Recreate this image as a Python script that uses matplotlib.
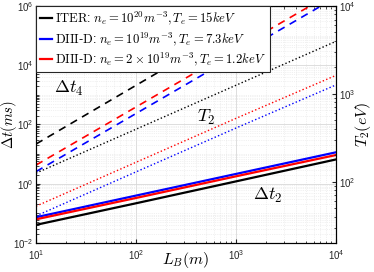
import numpy as np
import matplotlib
matplotlib.use("Agg")
import matplotlib.pyplot as plt
from matplotlib.ticker import LogLocator, NullFormatter

plt.rcParams['mathtext.fontset'] = 'cm'
plt.rcParams['font.family'] = ['Liberation Sans', 'DejaVu Sans']

# --- data (log-log straight lines) ---
L_B = [10, 100, 1000, 10000]

# Delta t_2 (ms), solid
dt2_iter = [0.041, 0.219, 1.20, 6.6]
dt2_d73 = [0.074, 0.398, 2.14, 11.5]
dt2_d12 = [0.063, 0.331, 1.78, 9.3]

# Delta t_4 (ms), dashed
dt4_iter = [21.9, 2090, 2.0e5, 1.9e7]
dt4_d73 = [2.57, 234, 2.14e4, 1.95e6]
dt4_d12 = [4.27, 389, 3.55e4, 3.2e6]

# T_2 (eV), dotted, right axis
T2_iter = [125, 395, 1250, 3950]
T2_d73 = [40.7, 129, 407, 1260]
T2_d12 = [52.5, 166, 525, 1620]

labels = [r'$\mathrm{ITER}$: $n_e = 10^{20}m^{-3}, T_e = 15keV$',
          r'$\mathrm{DIII}$-$\mathrm{D}$: $n_e = 10^{19}m^{-3}, T_e = 7.3keV$',
          r'$\mathrm{DIII}$-$\mathrm{D}$: $n_e = 2\times10^{19}m^{-3}, T_e = 1.2keV$']
colors = ['black', '#0000ff', '#ff0000']

fig = plt.figure(figsize=(3.74, 2.72), dpi=100)
ax = fig.add_axes([0.0963, 0.1066, 0.8017, 0.8714])
ax2 = ax.twinx()

dt2 = [dt2_iter, dt2_d73, dt2_d12]
dt4 = [dt4_iter, dt4_d73, dt4_d12]
T2 = [T2_iter, T2_d73, T2_d12]

handles = []
for c, lab, a, b in zip(colors, labels, dt2, dt4):
    h, = ax.plot(L_B, a, '-', color=c, lw=1.6, label=lab)
    ax.plot(L_B, b, '--', color=c, lw=1.2, dashes=(4.5, 3.5))
    handles.append(h)
for c, t in zip(colors, T2):
    ax2.plot(L_B, t, ':', color=c, lw=1.0)

for a in (ax, ax2):
    a.set_xscale('log')
    a.set_yscale('log')
ax.set_xlim(10, 1e4)
ax.set_ylim(1e-2, 1e6)
ax2.set_ylim(20, 1e4)

ax.set_yticks([1e-2, 1, 1e2, 1e4, 1e6])
ax.yaxis.set_minor_locator(LogLocator(base=10, subs=np.arange(1, 10), numticks=20))
ax.yaxis.set_minor_formatter(NullFormatter())
ax.xaxis.set_minor_locator(LogLocator(base=10, subs=np.arange(2, 10), numticks=20))
ax.xaxis.set_minor_formatter(NullFormatter())
ax2.set_yticks([1e2, 1e3, 1e4])
ax2.yaxis.set_minor_locator(LogLocator(base=10, subs=np.arange(2, 10), numticks=20))
ax2.yaxis.set_minor_formatter(NullFormatter())

ax.grid(True, which='major', color='#d8d8d8', lw=0.6)
ax.grid(True, which='minor', color='#e4e4e4', lw=0.5, ls=':')
ax.set_axisbelow(True)

ax.tick_params(which='both', direction='in', top=True, right=False, labelsize=7,
               colors='#262626', pad=2)
ax.tick_params(axis='x', which='both', pad=4)
ax.tick_params(which='major', length=3)
ax.tick_params(which='minor', length=1.8)
ax2.tick_params(which='both', direction='in', labelsize=7, colors='#262626', pad=2)
ax2.tick_params(which='major', length=3)
ax2.tick_params(which='minor', length=1.8)

ax.set_xlabel(r'$L_B(m)$', fontsize=11.5)
ax.set_ylabel(r'$\Delta t(ms)$', fontsize=10.5)
ax2.set_ylabel(r'$T_2(eV)$', fontsize=11.5)
ax.xaxis.set_label_coords(0.5, -0.03)
ax.yaxis.set_label_coords(-0.057, 0.5)
ax2.yaxis.set_label_coords(1.056, 0.5)

ax.text(21.4, 1700, r'$\Delta t_4$', fontsize=13, ha='center', va='center')
ax.text(507, 178, r'$T_2$', fontsize=13, ha='center', va='center')
ax.text(2075, 0.417, r'$\Delta t_2$', fontsize=13, ha='center', va='center')

leg = ax2.legend(handles, labels, loc='upper left', fontsize=9.1, borderaxespad=0,
                 handlelength=1.0, handletextpad=0.2, labelspacing=0.25,
                 borderpad=0.3, fancybox=False, framealpha=1)
leg.get_frame().set_edgecolor('#262626')
leg.get_frame().set_linewidth(0.8)

fig.savefig('out.png', dpi=100)
